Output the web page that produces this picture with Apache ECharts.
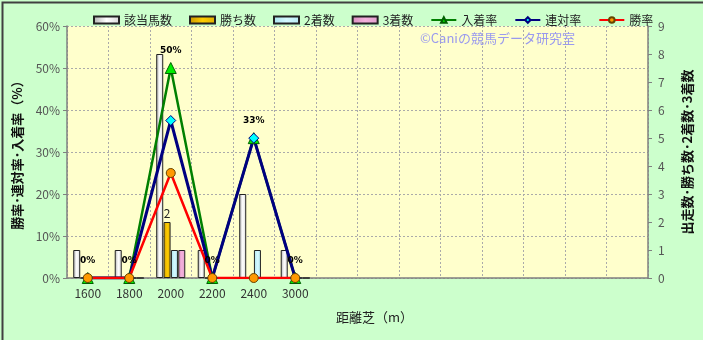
<!DOCTYPE html>
<html>
<head>
<meta charset="utf-8">
<script src="https://cdn.jsdelivr.net/npm/echarts@6/dist/echarts.min.js"></script>
<style>
  html, body { margin: 0; padding: 0; background: #ccffcc; }
  #chart { width: 703px; height: 340px; }
</style>
</head>
<body>
<div id="chart"></div>
<script>
// Distances (turf); trailing blanks keep the empty slots on the axis
const distances = ['1600', '1800', '2000', '2200', '2400', '3000', '', '', '', '', '', '', '', ''];

// Counts (right axis)
const runners = [1, 1, 8, 1, 3, 1];
const wins    = [0, 0, 2, 0, 0, 0];
const seconds = [0, 0, 1, 0, 1, 0];
const thirds  = [0, 0, 1, 0, 0, 0];

// Rates in percent (left axis)
const placeRate = [0, 0, 50, 0, 33.3, 0];
const quinellaRate = [0, 0, 37.5, 0, 33.3, 0];
const winRate = [0, 0, 25, 0, 0, 0];

const leftTicks = { min: 0, max: 60, interval: 10 };
const rightTicks = { min: 0, max: 9, interval: 1 };

const FONT = '"Noto Sans CJK JP", "Noto Sans", sans-serif';

const chart = echarts.init(document.getElementById('chart'));

function grad(c0, c1, c2) {
  return new echarts.graphic.LinearGradient(0, 0, 1, 0, [
    { offset: 0, color: c0 }, { offset: 0.5, color: c1 }, { offset: 1, color: c2 }
  ]);
}

function barSeries(name, data, color) {
  return {
    name: name, type: 'bar', yAxisIndex: 1, data: data,
    barWidth: 7, barGap: '5%',
    itemStyle: { color: color, borderColor: '#222', borderWidth: 1 }
  };
}

function lineSeries(name, data, color, symbol, symbolColor, borderColor, size, width) {
  return {
    name: name, type: 'line', yAxisIndex: 0, data: data,
    symbol: symbol, symbolSize: size,
    lineStyle: { color: color, width: width },
    itemStyle: { color: symbolColor, borderColor: borderColor, borderWidth: 1 }
  };
}

const series = [
  barSeries('該当馬数', runners, grad('#b0b0b0', '#ffffff', '#d8d8d8')),
  Object.assign(barSeries('勝ち数', wins, grad('#c89600', '#ffcc00', '#e0b000')), {
    label: {
      show: true, position: 'top', distance: 3, fontSize: 12, color: '#222', fontFamily: FONT,
      formatter: p => (p.value > 0 && p.dataIndex === 2) ? String(p.value) : ''
    }
  }),
  barSeries('2着数', seconds, grad('#a8e4ee', '#d4f8ff', '#b8ecf4')),
  barSeries('3着数', thirds, grad('#d890c0', '#f4b0dc', '#e0a0cc')),
  Object.assign(lineSeries('入着率', placeRate, '#008000', 'triangle', '#00ee00', '#006000', 11, 2.5), {
    label: {
      show: true, position: 'top', distance: 7, fontSize: 9, fontWeight: 'bold',
      color: '#000', fontFamily: 'DejaVu Sans, sans-serif',
      formatter: p => Math.round(p.value) + '%'
    }
  }),
  lineSeries('連対率', quinellaRate, '#000080', 'diamond', '#00ffff', '#000080', 10, 3),
  lineSeries('勝率', winRate, '#ff0000', 'circle', '#ff9900', '#664400', 9, 2.5)
];

chart.setOption({
  backgroundColor: '#ccffcc',
  animation: false,
  textStyle: { fontFamily: FONT },
  legend: {
    top: 9, left: 88, itemGap: 17, itemWidth: 25, itemHeight: 7,
    textStyle: { fontSize: 12, color: '#222', fontFamily: FONT },
    data: [
      { name: '該当馬数', icon: 'rect' }, { name: '勝ち数', icon: 'rect' },
      { name: '2着数', icon: 'rect' }, { name: '3着数', icon: 'rect' },
      '入着率', '連対率', '勝率'
    ]
  },
  grid: {
    left: 67, right: 55, top: 26, bottom: 62, containLabel: false, outerBoundsMode: 'none',
    show: true, backgroundColor: '#ffffcc', borderWidth: 0
  },
  xAxis: {
    type: 'category', data: distances, boundaryGap: true,
    name: '距離芝（m）', nameLocation: 'middle', nameGap: 33,
    nameTextStyle: { fontSize: 13, color: '#222', padding: [0, 0, 0, 34] },
    axisLine: { lineStyle: { color: '#808080', width: 1.5 } },
    axisTick: { show: false },
    axisLabel: { color: '#333', fontSize: 12, margin: 9, interval: 0 },
    splitLine: { show: true, interval: 0, lineStyle: { color: '#aaaaaa', type: [2, 2], width: 1 } }
  },
  yAxis: [
    {
      type: 'value', min: leftTicks.min, max: leftTicks.max, interval: leftTicks.interval,
      name: '勝率･連対率･入着率（%）', nameLocation: 'middle', nameGap: 43, nameRotate: 90,
      nameTextStyle: { fontSize: 13, color: '#111', fontWeight: 'bold' },
      axisLine: { show: true, lineStyle: { color: '#808080', width: 1.5 } },
      axisTick: { show: true, inside: false, length: 4, lineStyle: { color: '#808080' } },
      axisLabel: { color: '#555', fontSize: 12, margin: 7, formatter: v => v + '%' },
      splitLine: { show: true, lineStyle: { color: '#aaaaaa', type: [2, 2], width: 1 } }
    },
    {
      type: 'value', min: rightTicks.min, max: rightTicks.max, interval: rightTicks.interval,
      name: '出走数･勝ち数･2着数･3着数', nameLocation: 'middle', nameGap: 33, nameRotate: 90,
      nameTextStyle: { fontSize: 13, color: '#111', fontWeight: 'bold' },
      axisLine: { show: true, lineStyle: { color: '#808080', width: 1.5 } },
      axisTick: { show: true, inside: false, length: 4, lineStyle: { color: '#808080' } },
      axisLabel: { color: '#555', fontSize: 12, margin: 10 },
      splitLine: { show: false }
    }
  ],
  graphic: [
    {
      type: 'text', left: 420, top: 32, z: 1,
      style: { text: '©Caniの競馬データ研究室', fill: '#9a9aee', fontSize: 13, fontFamily: FONT }
    },
    {
      type: 'rect', left: 0, top: 0, z: 100, silent: true,
      shape: { x: 0, y: 0, width: 702, height: 339 },
      style: { fill: 'none', stroke: '#404040', lineWidth: 2 }
    }
  ],
  series: series
});
</script>
</body>
</html>
